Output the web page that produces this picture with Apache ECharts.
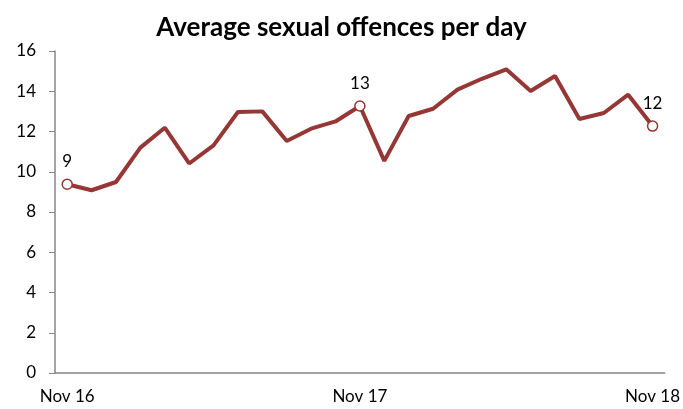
<!DOCTYPE html>
<html>
<head>
<meta charset="utf-8">
<script src="https://cdn.jsdelivr.net/npm/echarts@6/dist/echarts.min.js"></script>
<style>html,body{margin:0;padding:0;background:#fff}#c{width:683px;height:409px}</style>
</head>
<body>
<div id="c"></div>
<script>
const categories = ["Nov 16","Dec 16","Jan 17","Feb 17","Mar 17","Apr 17","May 17","Jun 17","Jul 17","Aug 17","Sep 17","Oct 17","Nov 17","Dec 17","Jan 18","Feb 18","Mar 18","Apr 18","May 18","Jun 18","Jul 18","Aug 18","Sep 18","Oct 18","Nov 18"];
const values = [9.38,9.08,9.49,11.2,12.19,10.41,11.31,12.97,13.0,11.53,12.14,12.5,13.27,10.54,12.77,13.13,14.08,14.62,15.09,14.01,14.76,12.62,12.92,13.83,12.27];
const labelledIdx = [0,12,24];
const yTicks = [0,2,4,6,8,10,12,14,16];
const title = "Average sexual offences per day";

const red = "#953735";
const font = "Lato, 'Open Sans', sans-serif";
const seriesData = values.map((v,i) => {
  if (labelledIdx.includes(i)) {
    return {
      value: v,
      symbol: 'circle',
      symbolSize: 10,
      itemStyle: {color: '#fff', borderColor: red, borderWidth: 1.5},
      label: {show: true, position: 'top', distance: 8, formatter: p => Math.round(p.value), fontSize: 17, color: '#000', fontFamily: font}
    };
  }
  return {value: v, symbol: 'none'};
});

const chart = echarts.init(document.getElementById('c'), null, {renderer: 'canvas'});
chart.setOption({
  animation: false,
  title: {text: title, left: 'center', top: 10, textStyle: {fontSize: 26, fontWeight: 'bold', color: '#000', fontFamily: font}},
  grid: {left: 55, right: 15, top: 51, bottom: 36},
  xAxis: {
    type: 'category',
    data: categories,
    boundaryGap: true,
    axisLine: {lineStyle: {color: '#868686', width: 1.5}},
    axisTick: {show: false},
    axisLabel: {interval: (i) => labelledIdx.includes(i), color: '#000', fontSize: 17, fontFamily: font, margin: 15}
  },
  yAxis: {
    type: 'value',
    min: yTicks[0], max: yTicks[yTicks.length-1], interval: 2,
    axisLine: {show: true, lineStyle: {color: '#868686', width: 1.5}},
    axisTick: {show: true, length: 6, lineStyle: {color: '#868686'}},
    splitLine: {show: false},
    axisLabel: {color: '#000', fontSize: 17, fontFamily: font, margin: 19}
  },
  series: [{
    type: 'line',
    data: seriesData,
    lineStyle: {color: red, width: 4},
    itemStyle: {color: red},
    symbol: 'none',
    z: 3
  }]
});
</script>
</body>
</html>
